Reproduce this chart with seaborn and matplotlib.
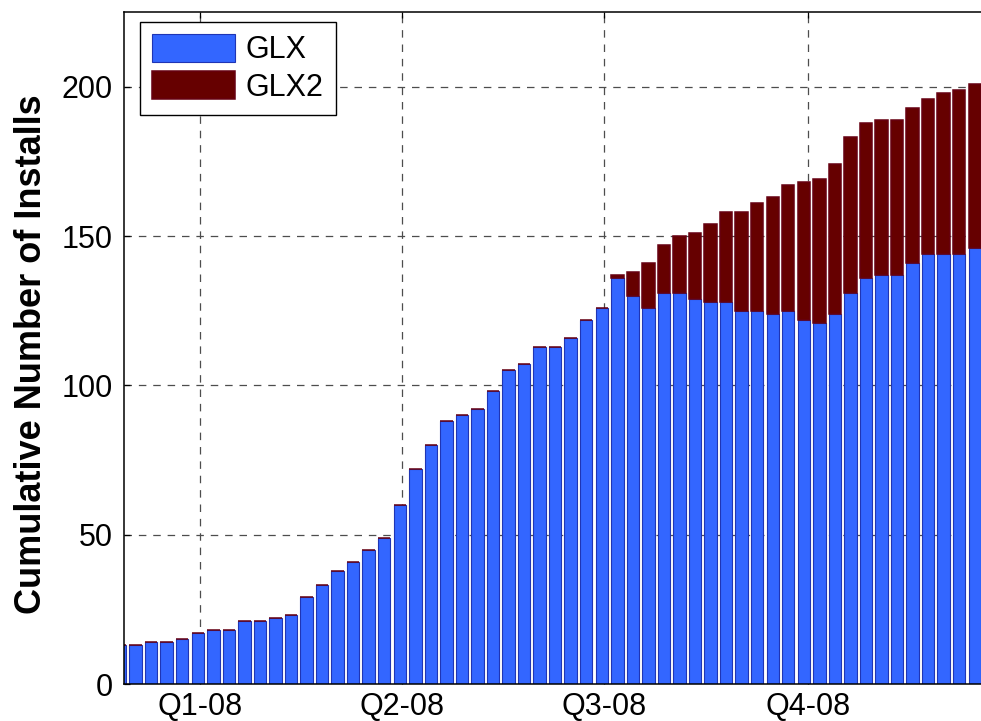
import numpy as np
import pandas as pd
import matplotlib
matplotlib.use("Agg")
import matplotlib.pyplot as plt
import seaborn as sns

# ---- data ----
first_week = "2007-11-26"
n_weeks = 56
glx = [13, 13, 14, 14, 15, 17, 18, 18, 21, 21,
       22, 23, 29, 33, 38, 41, 45, 49, 60, 72,
       80, 88, 90, 92, 98, 105, 107, 113, 113, 116,
       122, 126, 136, 130, 126, 131, 131, 129, 128, 128,
       125, 125, 124, 125, 122, 121, 124, 131, 136, 137,
       137, 141, 144, 144, 144, 146]
glx2 = [0, 0, 0, 0, 0, 0, 0, 0, 0, 0,
        0, 0, 0, 0, 0, 0, 0, 0, 0, 0,
        0, 0, 0, 0, 0, 0, 0, 0, 0, 0,
        0, 0, 1, 8, 15, 16, 19, 22, 26, 30,
        33, 36, 39, 42, 46, 48, 50, 52, 52, 52,
        52, 52, 52, 54, 55, 55]
quarter_starts = ["2008-01-01", "2008-04-01", "2008-07-01", "2008-10-01"]
quarter_labels = ["Q1-08", "Q2-08", "Q3-08", "Q4-08"]
y_ticks = [0, 50, 100, 150, 200]
origin = pd.Timestamp("2008-01-01")

weeks = pd.date_range(first_week, periods=n_weeks, freq="7D")
df = pd.DataFrame({
    "day": (weeks - origin).days.astype(float),
    "GLX": glx,
    "GLX2": glx2,
})
q_days = [(pd.Timestamp(q) - origin).days for q in quarter_starts]

sns.set_theme(style="white")
plt.rcParams["font.family"] = ["Liberation Sans", "DejaVu Sans"]
plt.rcParams["text.color"] = "black"

fig = plt.figure(figsize=(9.81, 7.21), dpi=100)
ax = fig.add_axes([124 / 981, 37 / 721, 857 / 981, 672 / 721])

sns.barplot(data=df, x="day", y="GLX", native_scale=True, width=0.8,
            color="#3366ff", saturation=1, errorbar=None,
            edgecolor="#1f35b5", linewidth=0.8, label="GLX", ax=ax)
sns.barplot(data=df, x="day", y="GLX2", native_scale=True, width=0.8,
            color="#660000", saturation=1, errorbar=None,
            bottom=df["GLX"].to_numpy(),
            edgecolor="#660011", linewidth=1.1, label="GLX2", ax=ax)

ax.set_xlim(-34.24, 351.83)
ax.set_ylim(0, 225)
ax.set_xticks(q_days)
ax.set_xticklabels(quarter_labels)
ax.set_yticks(y_ticks)
ax.set_xlabel("")
ax.set_ylabel("Cumulative Number of Installs", fontsize=26,
              fontweight="bold", color="black")
ax.yaxis.set_label_coords(-0.087, 0.491)

ax.grid(True, linestyle=(0, (6, 5.5)), color="#4d4d4d", linewidth=0.9)
ax.set_axisbelow(True)

for side in ["left", "bottom", "top"]:
    ax.spines[side].set_visible(True)
    ax.spines[side].set_color("black")
    ax.spines[side].set_linewidth(1.1)
ax.spines["right"].set_visible(False)

ax.tick_params(axis="both", direction="in", length=4.5, width=0.9,
               colors="black", labelcolor="black", labelsize=22)
ax.tick_params(axis="x", top=True, bottom=True, pad=6)
ax.tick_params(axis="y", left=True, right=False, pad=8)

leg = ax.legend(loc="upper left", bbox_to_anchor=(16 / 857, 1 - 10 / 672),
                borderaxespad=0, fontsize=22, frameon=True, fancybox=False,
                framealpha=1, edgecolor="black", handlelength=2.7,
                handleheight=1.0, handletextpad=0.35, labelspacing=0.2,
                borderpad=0.4, labelcolor="black")
leg.get_frame().set_linewidth(1.0)

fig.savefig("out.png", dpi=100)
